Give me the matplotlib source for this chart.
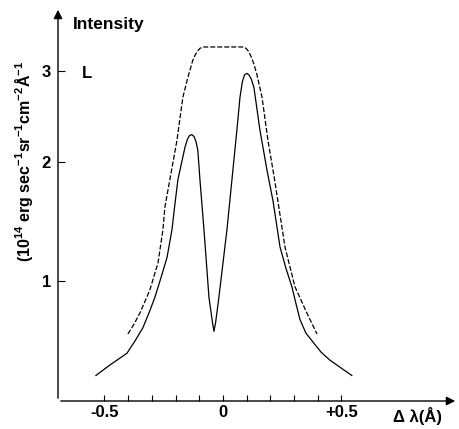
import numpy as np
import matplotlib
matplotlib.use("Agg")
import matplotlib.pyplot as plt

plt.rcParams["font.family"] = ["Liberation Sans", "DejaVu Sans"]
plt.rcParams["font.weight"] = "bold"
plt.rcParams["mathtext.fontset"] = "custom"
plt.rcParams["mathtext.rm"] = "Liberation Sans:bold"
plt.rcParams["mathtext.bf"] = "Liberation Sans:bold"
plt.rcParams["mathtext.default"] = "bf"

# observed profile (solid)
obs_dl = [-0.536, -0.477, -0.405, -0.371, -0.338, -0.312, -0.287, -0.262, -0.236,
          -0.215, -0.203, -0.190, -0.172, -0.160, -0.150, -0.141, -0.131, -0.122,
          -0.114, -0.106, -0.097, -0.080, -0.059, -0.045, -0.038, -0.031, -0.017,
          0.017, 0.038, 0.059, 0.072, 0.082, 0.091, 0.101, 0.110, 0.120, 0.131,
          0.156, 0.186, 0.211, 0.241, 0.266, 0.291, 0.308, 0.325, 0.350, 0.380,
          0.414, 0.451, 0.498, 0.544]
obs_int = [0.45, 0.50, 0.56, 0.626, 0.70, 0.79, 0.89, 1.02, 1.17,
           1.39, 1.60, 1.83, 2.02, 2.15, 2.23, 2.27, 2.28, 2.26,
           2.21, 2.12, 1.83, 1.39, 0.89, 0.74, 0.68, 0.73, 0.89,
           1.39, 1.83, 2.33, 2.69, 2.87, 2.95, 2.97, 2.95, 2.90, 2.80,
           2.33, 1.92, 1.64, 1.25, 1.09, 0.96, 0.85, 0.75, 0.67, 0.62,
           0.566, 0.525, 0.486, 0.45]

# computed profile (dashed)
calc_dl = [-0.401, -0.376, -0.350, -0.308, -0.274, -0.253, -0.245, -0.224, -0.194,
           -0.169, -0.150, -0.139, -0.128, -0.118, -0.108, -0.096, -0.084, 0.084,
           0.097, 0.108, 0.118, 0.130, 0.143, 0.165, 0.190, 0.218, 0.262, 0.304,
           0.330, 0.354, 0.397]
calc_int = [0.665, 0.72, 0.79, 0.94, 1.13, 1.39, 1.58, 1.83, 2.22,
            2.69, 2.90, 3.01, 3.12, 3.19, 3.24, 3.28, 3.295, 3.295,
            3.28, 3.24, 3.18, 3.09, 2.96, 2.69, 2.22, 1.83, 1.25, 0.96,
            0.87, 0.79, 0.665]

x_ticks = [-0.5, -0.4, -0.3, -0.2, -0.1, 0.0, 0.1, 0.2, 0.3, 0.4, 0.5]
x_labels = ["-0.5", "", "", "", "", "0", "", "", "", "", "+0.5"]
y_ticks = [1, 2, 3]
y_labels = ["1", "2", "3"]

fig = plt.figure(figsize=(4.6, 4.29), dpi=100)
ax = fig.add_axes([58 / 460, 28 / 429, 400 / 460, 394 / 429])
ax.set_yscale("function", functions=(lambda v: np.sqrt(np.clip(v, 0, None)), np.square))
ax.set_xlim(-0.696, 0.992)
ax.set_ylim(0.3386, 3.82)

ax.plot(obs_dl, obs_int, color="black", lw=0.9)
ax.plot(calc_dl, calc_int, color="black", lw=0.9, dashes=(4, 1.6))

for s in ["top", "right", "left", "bottom"]:
    ax.spines[s].set_visible(False)

ax.annotate("", xy=(0, 1.0), xytext=(0, 0), xycoords="axes fraction",
            arrowprops=dict(arrowstyle="-|>", lw=1.0, color="black", mutation_scale=13))
ax.annotate("", xy=(1.0, 0), xytext=(0, 0), xycoords="axes fraction",
            arrowprops=dict(arrowstyle="-|>", lw=1.0, color="black", mutation_scale=13))

ax.set_xticks(x_ticks)
ax.set_xticklabels(x_labels, fontsize=12, fontweight="bold")
ax.set_yticks(y_ticks)
ax.set_yticklabels(y_labels, fontsize=12, fontweight="bold")
ax.yaxis.set_minor_locator(matplotlib.ticker.NullLocator())
ax.tick_params(axis="x", direction="in", length=4, width=0.8, pad=3)
ax.tick_params(axis="y", direction="in", length=5, width=0.8, pad=5)

fig.text(73 / 460, 1 - 25 / 429, "Intensity", fontsize=12.5, fontweight="bold",
         ha="left", va="center")
fig.text(87 / 460, 1 - 73 / 429, "L", fontsize=12, fontweight="bold",
         ha="center", va="center")
fig.text(24 / 460, 1 - 161 / 429,
         r"(10$^{14}$ erg sec$^{-1}$sr$^{-1}$cm$^{-2}$Å$^{-1}$",
         fontsize=11.5, fontweight="bold", rotation=90, ha="center", va="center")
fig.text(418 / 460, 1 - 416 / 429, "Δ λ(Å)", fontsize=12, fontweight="bold",
         ha="center", va="center")

fig.savefig("out.png", dpi=100)
